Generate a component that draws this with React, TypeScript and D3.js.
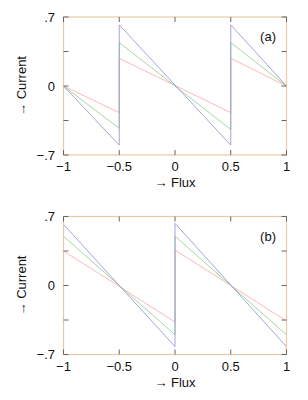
import * as d3 from "d3";

// panel (a): jumps at -0.5 and 0.5
const fluxA = [-1, -0.5, -0.5, 0.5, 0.5, 1];
const blueA = [0, -0.6, 0.62, -0.6, 0.62, 0];
const greenA = [0, -0.43, 0.44, -0.44, 0.44, 0];
const redA = [0, -0.27, 0.28, -0.27, 0.28, 0];

// panel (b): jump at 0
const fluxB = [-1, 0, 0, 1];
const blueB = [0.62, -0.62, 0.63, -0.62];
const greenB = [0.5, -0.5, 0.5, -0.5];
const redB = [0.35, -0.37, 0.36, -0.36];

const xTicks = [-1, -0.5, 0, 0.5, 1];
const xTickLabels = ["\u22121", "\u22120.5", "0", "0.5", "1"];
const yTicks = [-0.7, -0.35, 0, 0.35, 0.7];
const yLabelTicks = [0.7, 0, -0.7];
const yTickLabels = [".7", "0", "\u2212.7"];

const seriesColors = ["#ffb0b0", "#98d498", "#9a9ad8"];
const frameColor = "#ecc8a4";
const tickColor = "#666";
const font = "'Liberation Sans', Arial, Helvetica, sans-serif";
const fs = 13;

const left = 63.5;
const right = 286.5;

interface PanelProps {
  top: number;
  bottom: number;
  flux: number[];
  series: number[][];
  tag: string;
}

const Panel = ({ top, bottom, flux, series, tag }: PanelProps) => {
  const x = d3.scaleLinear().domain([-1, 1]).range([left, right]);
  const y = d3.scaleLinear().domain([-0.7, 0.7]).range([bottom, top]);
  const line = d3
    .line<number>()
    .x((_, i) => x(flux[i]))
    .y((d) => y(d));
  const tl = 5;
  return (
    <g>
      {series.map((s, i) => (
        <path
          key={i}
          d={line(s) || ""}
          fill="none"
          stroke={seriesColors[i]}
          strokeWidth={0.9}
        />
      ))}
      <rect
        x={left}
        y={top}
        width={right - left}
        height={bottom - top}
        fill="none"
        stroke={frameColor}
        strokeWidth={1.2}
      />
      {xTicks.map((t) => (
        <g key={"x" + t} stroke={tickColor} strokeWidth={1}>
          <line x1={x(t)} x2={x(t)} y1={bottom} y2={bottom - tl} />
          <line x1={x(t)} x2={x(t)} y1={top} y2={top + tl} />
        </g>
      ))}
      {yTicks.map((t) => (
        <g key={"y" + t} stroke={tickColor} strokeWidth={1}>
          <line x1={left} x2={left + tl} y1={y(t)} y2={y(t)} />
          <line x1={right} x2={right - tl} y1={y(t)} y2={y(t)} />
        </g>
      ))}
      {xTicks.map((t, i) => (
        <text
          key={"xl" + t}
          x={x(t)}
          y={bottom + 16}
          textAnchor="middle"
          fontSize={fs}
          fontFamily={font}
          fill="#111"
        >
          {xTickLabels[i]}
        </text>
      ))}
      {yLabelTicks.map((t, i) => (
        <text
          key={"yl" + t}
          x={55}
          y={y(t) + 4.5}
          textAnchor="end"
          fontSize={fs}
          fontFamily={font}
          fill="#111"
        >
          {yTickLabels[i]}
        </text>
      ))}
      <text
        x={x(0)}
        y={bottom + 32}
        textAnchor="middle"
        fontSize={fs}
        fontFamily={font}
        fill="#111"
      >
        {"\u2192 Flux"}
      </text>
      <text
        transform={`translate(26,${(top + bottom) / 2}) rotate(-90)`}
        textAnchor="middle"
        fontSize={fs}
        fontFamily={font}
        fill="#111"
      >
        {"\u2192 Current"}
      </text>
      <text
        x={276}
        y={top + 24}
        textAnchor="end"
        fontSize={fs}
        fontFamily={font}
        fill="#111"
      >
        {tag}
      </text>
    </g>
  );
};

export default function App() {
  return (
    <svg
      width={308}
      height={400}
      style={{ position: "absolute", left: 0, top: 0, background: "#fff" }}
    >
      <Panel
        top={17}
        bottom={155}
        flux={fluxA}
        series={[redA, greenA, blueA]}
        tag="(a)"
      />
      <Panel
        top={216.5}
        bottom={354.5}
        flux={fluxB}
        series={[redB, greenB, blueB]}
        tag="(b)"
      />
    </svg>
  );
}
